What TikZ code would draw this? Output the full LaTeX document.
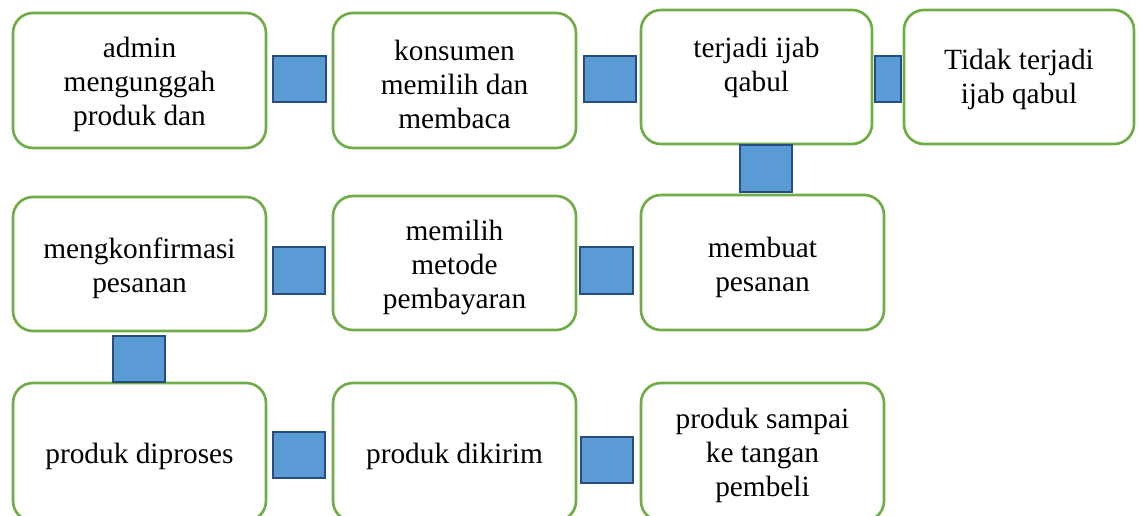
\documentclass[tikz,border=0pt]{standalone}
\usepackage{fontspec}
\setmainfont{Liberation Serif}
\usepackage{tikz}
\definecolor{boxgreen}{HTML}{70AD47}
\definecolor{linkfill}{HTML}{5B9BD5}
\definecolor{linkdraw}{HTML}{264D7E}
\tikzset{
  stepbox/.style 2 args={draw=boxgreen,line width=2pt,rounded corners=15pt,fill=white,
    inner sep=0pt,minimum width=#1*0.75pt,minimum height=#2*0.75pt},
  steptext/.style={align=center,inner sep=0pt},
  link/.style 2 args={draw=linkdraw,fill=linkfill,line width=1.5pt,inner sep=0pt,
    minimum width=#1*0.75pt,minimum height=#2*0.75pt}
}

\begin{document}
\begin{tikzpicture}[x=0.75pt,y=-0.75pt,font=\fontsize{22}{25.5}\selectfont]
  \clip (0,0) rectangle (1140,516);
  % ---------------- row 1
  \node[stepbox={253}{135}] (admin) at (139.5,80.5) {};
  \node[steptext] (admin-t) at ([yshift=-3pt]admin.center) {admin\\mengunggah\\produk dan};
  \node[stepbox={243}{135}] (konsumen) at (454.5,80.5) {};
  \node[steptext] (konsumen-t) at ([yshift=-3pt]konsumen.center) {konsumen\\memilih dan\\membaca};
  \node[stepbox={231}{134}] (ijab) at (756.5,77) {};
  \node[steptext,anchor=north] (ijab-t) at ([yshift=-21pt]ijab.north) {terjadi ijab\\qabul};
  \node[stepbox={230}{134}] (tidak) at (1019,77) {};
  \node[steptext] (tidak-t) at ([yshift=-1.5pt]tidak.center) {Tidak terjadi\\ijab qabul};
  % ---------------- row 2
  \node[stepbox={253}{134}] (konfirmasi) at (139.5,264) {};
  \node[steptext] (konfirmasi-t) at ([yshift=-3pt]konfirmasi.center) {mengkonfirmasi\\pesanan};
  \node[stepbox={243}{134}] (bayar) at (454.5,263) {};
  \node[steptext] (bayar-t) at ([yshift=-3.5pt]bayar.center) {memilih\\metode\\pembayaran};
  \node[stepbox={243}{135}] (pesan) at (762.5,262.5) {};
  \node[steptext] (pesan-t) at ([yshift=-4pt]pesan.center) {membuat\\pesanan};
  % ---------------- row 3
  \node[stepbox={253}{138}] (proses) at (139.5,452) {};
  \node[steptext] (proses-t) at ([yshift=-3pt]proses.center) {produk diproses};
  \node[stepbox={243}{138}] (kirim) at (454.5,452) {};
  \node[steptext] (kirim-t) at ([yshift=-3pt]kirim.center) {produk dikirim};
  \node[stepbox={243}{138}] (sampai) at (762.5,452) {};
  \node[steptext] (sampai-t) at ([yshift=-2.5pt]sampai.center) {produk sampai\\ke tangan\\pembeli};
  % ---------------- blue squares between the steps
  \node[link={53}{46}] (l1) at (299.5,79) {};
  \node[link={52}{46}] (l2) at (610,79) {};
  \node[link={26}{46}] (l3) at (888,79) {};
  \node[link={52}{47}] (l4) at (766,168.5) {};
  \node[link={52}{47}] (l5) at (299,270.5) {};
  \node[link={53}{47}] (l6) at (606.5,270.5) {};
  \node[link={52}{46}] (l7) at (139,359) {};
  \node[link={52}{46}] (l8) at (299,455) {};
  \node[link={52}{46}] (l9) at (607,460) {};
\end{tikzpicture}
\end{document}
